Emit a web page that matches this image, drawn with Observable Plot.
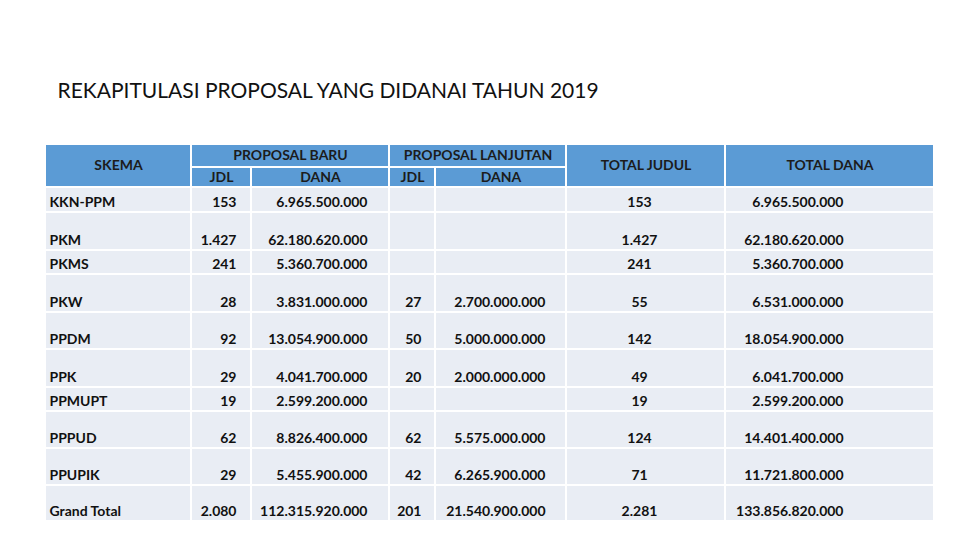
<!DOCTYPE html>
<html>
<head>
<meta charset="utf-8">
<script src="https://cdn.jsdelivr.net/npm/d3@7"></script>
<script src="https://cdn.jsdelivr.net/npm/@observablehq/plot@0.6"></script>
<style>
  html, body { margin: 0; padding: 0; background: #ffffff; }
  #chart svg { display: block; }
</style>
</head>
<body>
<div id="chart"></div>
<script>
// ---------- data ----------
const title = "REKAPITULASI PROPOSAL YANG DIDANAI TAHUN 2019";
const skema = ["KKN-PPM", "PKM", "PKMS", "PKW", "PPDM", "PPK", "PPMUPT", "PPPUD", "PPUPIK", "Grand Total"];
const baruJdl = [153, 1427, 241, 28, 92, 29, 19, 62, 29, 2080];
const baruDana = [6965500000, 62180620000, 5360700000, 3831000000, 13054900000, 4041700000, 2599200000, 8826400000, 5455900000, 112315920000];
const lanjutJdl = [null, null, null, 27, 50, 20, null, 62, 42, 201];
const lanjutDana = [null, null, null, 2700000000, 5000000000, 2000000000, null, 5575000000, 6265900000, 21540900000];
const totalJdl = [153, 1427, 241, 55, 142, 49, 19, 124, 71, 2281];
const totalDana = [6965500000, 62180620000, 5360700000, 6531000000, 18054900000, 6041700000, 2599200000, 14401400000, 11721800000, 133856820000];
const groupHeaders = ["PROPOSAL BARU", "PROPOSAL LANJUTAN"];
const subHeaders = ["JDL", "DANA"];
const mergedHeaders = ["SKEMA", "TOTAL JUDUL", "TOTAL DANA"];

// ---------- layout (pixel units of the 960x540 canvas) ----------
const colEdges = [45, 191, 251, 389, 435, 566, 725, 934];
const headTop = 144, headMid = 167, headBottom = 187;
const rowHeights = [25, 38, 24, 38, 37, 38, 24, 37, 37, 36];
const rowBottoms = d3.cumsum(rowHeights, d => d).map(v => headBottom + v);
const rowTops = [headBottom, ...rowBottoms.slice(0, -1)];
const gap = 1; // half of the white separator line
const headFill = "#5b9bd5", bodyFill = "#e9edf4";
const headText = "#1c1c1c", bodyText = "#111111";

// column text placement: [anchor, x]
const colText = [
  ["start", 49], ["end", 236], ["end", 367], ["end", 421],
  ["end", 545], ["middle", 639], ["end", 843]
];

const fmt = d3.formatLocale({decimal: ",", thousands: ".", grouping: [3], currency: ["", ""]}).format(",");

// ---------- build cells ----------
const cells = [];
const texts = [];
// header cells
const hdr = (c1, c2, y1, y2, label) => {
  cells.push({x1: colEdges[c1] + gap, x2: colEdges[c2] - gap, y1: y1 + gap, y2: y2 - gap, fill: headFill});
  texts.push({x: (colEdges[c1] + colEdges[c2]) / 2, y: (y1 + y2) / 2, text: label, anchor: "middle", weight: "bold", color: headText});
};
hdr(0, 1, headTop, headBottom, mergedHeaders[0]);
hdr(1, 3, headTop, headMid, groupHeaders[0]);
hdr(1, 2, headMid, headBottom, subHeaders[0]);
hdr(2, 3, headMid, headBottom, subHeaders[1]);
hdr(3, 5, headTop, headMid, groupHeaders[1]);
hdr(3, 4, headMid, headBottom, subHeaders[0]);
hdr(4, 5, headMid, headBottom, subHeaders[1]);
hdr(5, 6, headTop, headBottom, mergedHeaders[1]);
hdr(6, 7, headTop, headBottom, mergedHeaders[2]);

// body cells
const columns = [skema, baruJdl, baruDana, lanjutJdl, lanjutDana, totalJdl, totalDana];
skema.forEach((s, i) => {
  columns.forEach((col, c) => {
    cells.push({x1: colEdges[c] + gap, x2: colEdges[c + 1] - gap, y1: rowTops[i] + gap, y2: rowBottoms[i] - gap, fill: bodyFill});
    const v = col[i];
    if (v == null) return;
    texts.push({
      x: colText[c][1], y: rowBottoms[i] - 9.5,
      text: c === 0 ? v : fmt(v),
      anchor: colText[c][0], weight: "bold", color: bodyText
    });
  });
});

const fontFamily = "Lato, 'Open Sans', sans-serif";

const plot = Plot.plot({
  width: 960,
  height: 540,
  margin: 0,
  x: {type: "linear", domain: [0, 960], range: [0, 960], axis: null},
  y: {type: "linear", domain: [0, 540], range: [0, 540], axis: null},
  style: {fontFamily, background: "#ffffff"},
  marks: [
    Plot.text([title], {x: () => 57, y: () => 91, text: d => d, textAnchor: "start", fontSize: 21, fill: "#111111", fontFamily}),
    Plot.rect(cells, {x1: "x1", x2: "x2", y1: "y1", y2: "y2", fill: "fill"}),
    ...["start", "middle", "end"].map(a =>
      Plot.text(texts.filter(t => t.anchor === a), {
        x: "x", y: "y", text: "text", textAnchor: a, fontSize: 14, fontWeight: "bold", fill: "color", fontFamily
      })
    )
  ]
});
document.getElementById("chart").appendChild(plot);
</script>
</body>
</html>
